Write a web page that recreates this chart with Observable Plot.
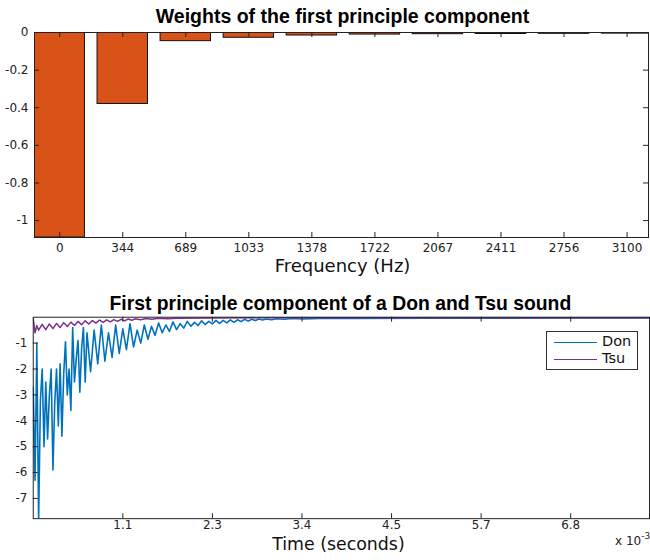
<!DOCTYPE html>
<html><head><meta charset="utf-8">
<script src="https://cdn.jsdelivr.net/npm/d3@7"></script>
<script src="https://cdn.jsdelivr.net/npm/@observablehq/plot@0.6"></script>
<style>
html,body{margin:0;padding:0;background:#fff;overflow:hidden;width:650px;height:560px;}
#wrap{position:relative;width:650px;height:560px;overflow:hidden;}
#top,#bottom{position:absolute;left:0;}
#top{top:0}
#bottom{top:280px}
.legend{position:absolute;left:546px;top:331px;width:90px;height:37px;border:1.5px solid #333;background:#fff;font-family:"DejaVu Sans";font-size:14.5px;color:#111;}
.row{position:absolute;left:0;height:15px;line-height:15px;}
.row .ln{position:absolute;left:7px;top:8px;width:43px;height:0;border-top:1.5px solid;}
.row .lb{position:absolute;left:55px;top:0;}
.exp{position:absolute;left:615px;top:534px;font-family:"DejaVu Sans";font-size:12px;color:#222;white-space:nowrap;}
.exp sup{font-size:9px;position:relative;top:-3px;vertical-align:top;}
</style></head>
<body><div id="wrap"><div id="top"></div><div id="bottom"></div>
<div class="legend" id="legend"></div>
<div class="exp">x 10<sup>-3</sup></div>
</div>
<script>
// ---- top panel data ----
const freqLabels = ["0","344","689","1033","1378","1722","2067","2411","2756","3100"];
const weights = [-1.09,-0.38,-0.046,-0.028,-0.016,-0.011,-0.009,-0.008,-0.007,-0.006];
const weightTicks = [0,-0.2,-0.4,-0.6,-0.8,-1];
const topTitle = "Weights of the first principle component";
const topXLabel = "Frequency (Hz)";

// ---- bottom panel data ----
const sampleRate = 44100;
const donSample = [0,1,2,3,4,5,6,7,8,9,10,11,12,13,14,15,16,17,18,19,20,21,22,23,24,25,26,27,28,29,30,32,34,36,38,40,42,44,46,48,50,52,54,56,58,60,62,64,66,68,70,72,74,76,78,80,82,84,86,88,90,92,94,96,98,100,102,104,106,108,110,112,114,116,118,120,122,124,126,128,130,133,136,140,145,150,160,180,220,260,300,345];
const donValue = [-2.7,-6.3,-1.0,-7.9,-3.2,-2.0,-5.0,-2.5,-4.7,-3.0,-2.0,-5.9,-3.3,-2.0,-4.2,-1.8,-4.6,-2.2,-0.95,-3.0,-2.0,-3.6,-0.4,-2.5,-1.6,-0.9,-2.9,-1.2,-0.4,-2.5,-0.6,-2.1,-0.5,-1.8,-0.3,-1.7,-0.6,-1.55,-0.3,-1.4,-0.45,-1.25,-0.25,-1.15,-0.5,-1.0,-0.3,-0.85,-0.35,-0.7,-0.22,-0.6,-0.3,-0.55,-0.18,-0.48,-0.25,-0.42,-0.16,-0.35,-0.2,-0.32,-0.14,-0.28,-0.16,-0.26,-0.12,-0.24,-0.12,-0.22,-0.1,-0.2,-0.1,-0.17,-0.08,-0.15,-0.08,-0.13,-0.07,-0.11,-0.07,-0.1,-0.06,-0.08,-0.05,-0.07,-0.05,-0.05,-0.04,-0.04,-0.03,-0.03];
const tsuSample = [0,1,2,3,5,7,9,11,13,15,17,19,21,23,25,27,29,31,33,35,37,39,41,43,45,47,49,51,53,55,57,60,63,66,70,75,80,100,150,345];
const tsuValue = [-0.05,-0.6,-0.32,-0.5,-0.28,-0.48,-0.26,-0.44,-0.24,-0.4,-0.21,-0.36,-0.19,-0.32,-0.16,-0.29,-0.14,-0.26,-0.13,-0.23,-0.11,-0.2,-0.1,-0.18,-0.09,-0.16,-0.08,-0.14,-0.07,-0.12,-0.06,-0.1,-0.05,-0.08,-0.04,-0.06,-0.04,-0.03,-0.02,-0.02];
const timeTickSamples = [50,100,150,200,250,300];
const timeTickLabels = ["1.1","2.3","3.4","4.5","5.7","6.8"];
const ampTicks = [-1,-2,-3,-4,-5,-6,-7];
const bottomTitle = "First principle component of a Don and Tsu sound";
const bottomXLabel = "Time (seconds)";
const seriesNames = ["Don","Tsu"];
const seriesColors = ["#0072BD","#7E2F8E"];

// ---- top chart ----
const bars = freqLabels.map((f, i) => ({i, f, w: weights[i]}));
const idx = bars.map(d => d.i);
const fmt = d => String(d);
const axisColor = "#222";

const topPlot = Plot.plot({
  width: 650, height: 280,
  marginLeft: 34, marginRight: 2, marginTop: 32, marginBottom: 43,
  x: {domain: [-0.4, 9.34]},
  y: {domain: [-1.09, 0]},
  style: {fontFamily: "DejaVu Sans", fontSize: "12px", color: axisColor, background: "white"},
  marks: [
    Plot.rect(bars, {x1: d => d.i - 0.4, x2: d => d.i + 0.4, y1: d => 0, y2: "w", fill: "#D95319", stroke: "#111", strokeWidth: 1, clip: true}),
    Plot.frame({stroke: axisColor, strokeWidth: 1}),
    Plot.tickX(idx, {x: d => d, stroke: axisColor, insetTop: 200}),
    Plot.tickX(idx, {x: d => d, stroke: axisColor, insetBottom: 200}),
    Plot.tickY(weightTicks, {y: d => d, stroke: axisColor, insetLeft: 609}),
    Plot.tickY(weightTicks, {y: d => d, stroke: axisColor, insetRight: 609}),
    Plot.axisX(idx, {tickSize: 0, tickPadding: 6, tickFormat: i => freqLabels[i], label: null}),
    Plot.axisY(weightTicks, {tickSize: 0, tickPadding: 6, tickFormat: fmt, label: null}),
    Plot.text([topTitle], {text: d => d, frameAnchor: "top", lineAnchor: "middle", dy: -16, dx: 1, fontSize: 19.5, fontWeight: "bold", fontFamily: "Liberation Sans", fill: "#000"}),
    Plot.text([topXLabel], {text: d => d, frameAnchor: "bottom", lineAnchor: "middle", dy: 29, dx: 1, fontSize: 18, fontFamily: "DejaVu Sans", fill: "#111"})
  ]
});
document.getElementById("top").append(topPlot);

// ---- bottom chart ----
const toMs = s => s / sampleRate * 1000;
const don = donSample.map((s, k) => ({t: toMs(s), v: donValue[k]}));
const tsu = tsuSample.map((s, k) => ({t: toMs(s), v: tsuValue[k]}));
const timeTicks = timeTickSamples.map(toMs);

const bottomPlot = Plot.plot({
  width: 655, height: 280,
  marginLeft: 33, marginRight: 1, marginTop: 37, marginBottom: 40,
  x: {domain: [0, 7.8]},
  y: {domain: [-7.78, 0]},
  style: {fontFamily: "DejaVu Sans", fontSize: "12px", color: axisColor, background: "white"},
  marks: [
    Plot.line(don, {x: "t", y: "v", stroke: seriesColors[0], strokeWidth: 1.6, clip: true}),
    Plot.line(tsu, {x: "t", y: "v", stroke: seriesColors[1], strokeWidth: 1.5, clip: true}),
    Plot.frame({stroke: axisColor, strokeWidth: 1}),
    Plot.tickX(timeTicks, {x: d => d, stroke: axisColor, insetTop: 198}),
    Plot.tickX(timeTicks, {x: d => d, stroke: axisColor, insetBottom: 198}),
    Plot.tickY(ampTicks, {y: d => d, stroke: axisColor, insetRight: 616}),
    Plot.axisX(timeTicks, {tickSize: 0, tickPadding: 2, tickFormat: d => timeTickLabels[timeTicks.indexOf(d)], label: null}),
    Plot.axisY(ampTicks, {tickSize: 0, tickPadding: 6, tickFormat: fmt, label: null}),
    Plot.text([bottomTitle], {text: d => d, frameAnchor: "top", lineAnchor: "middle", dy: -14, dx: -1, fontSize: 19.5, fontWeight: "bold", fontFamily: "Liberation Sans", fill: "#000"}),
    Plot.text([bottomXLabel], {text: d => d, frameAnchor: "bottom", lineAnchor: "middle", dy: 26, dx: -3, fontSize: 17.5, fontFamily: "DejaVu Sans", fill: "#111"})
  ]
});
document.getElementById("bottom").append(bottomPlot);

// ---- legend ----
const legend = document.getElementById("legend");
seriesNames.forEach((name, k) => {
  const row = document.createElement("div");
  row.className = "row";
  row.style.top = (2 + 16.5 * k) + "px";
  row.style.width = "90px";
  const ln = document.createElement("div");
  ln.className = "ln";
  ln.style.borderTopColor = seriesColors[k];
  const lb = document.createElement("div");
  lb.className = "lb";
  lb.textContent = name;
  row.append(ln, lb);
  legend.append(row);
});
</script>
</body></html>
